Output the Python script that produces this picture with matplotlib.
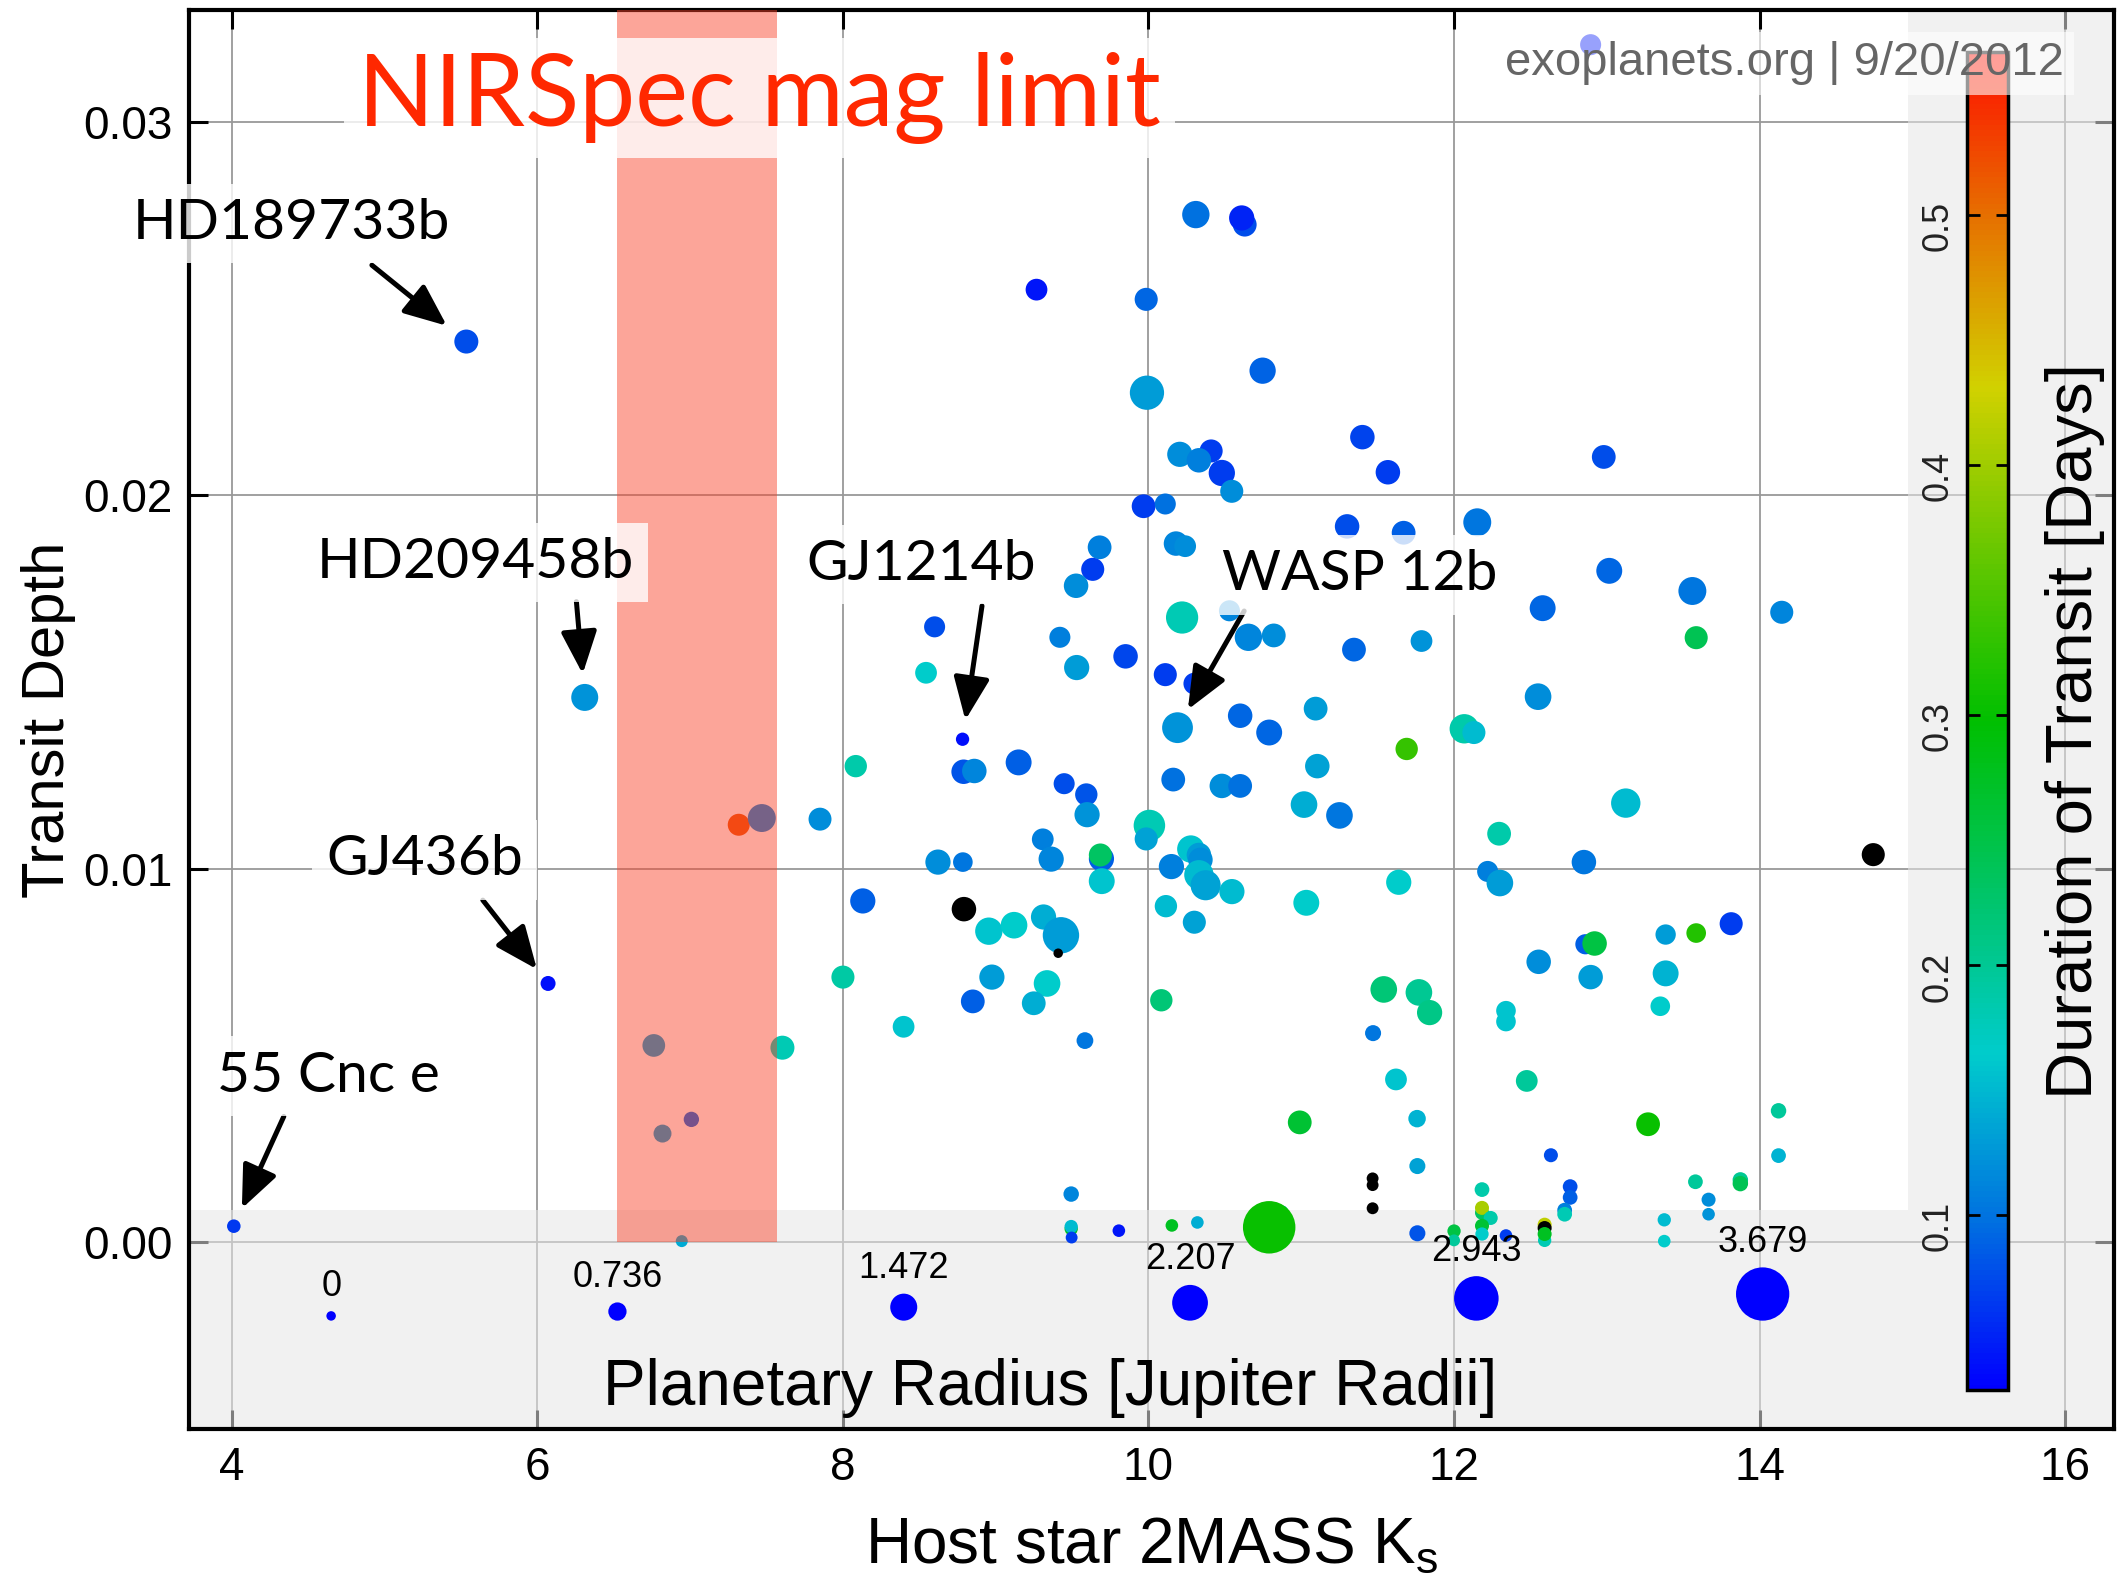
import numpy as np
import matplotlib
matplotlib.use('Agg')
import matplotlib.pyplot as plt
from matplotlib.colors import LinearSegmentedColormap, Normalize
from matplotlib.patches import Polygon, Rectangle
import matplotlib.cm as cm

plt.rcParams['font.family'] = ['Liberation Sans', 'DejaVu Sans']
plt.rcParams['mathtext.fontset'] = 'custom'
plt.rcParams['mathtext.rm'] = 'Liberation Sans'
plt.rcParams['mathtext.it'] = 'Liberation Sans'

# host star Ks magnitude, transit depth, planet radius [R_Jup], transit duration [days] (nan = unknown)
ks_mag = [5.535, 6.31, 6.07, 4.013, 8.783, 10.19,
          7.318, 7.469, 6.762, 7.604, 7.008, 6.819, 6.945, 7.85,
          10.31, 10.63, 10.61, 9.267, 9.985, 10.747, 9.99, 11.40, 10.205, 10.41,
          10.33, 10.48, 10.545, 9.968, 10.11, 11.30, 12.152, 11.67, 9.68, 9.635,
          9.526, 10.18, 10.24, 10.53, 10.22, 10.654, 10.82, 11.345, 8.60, 8.544,
          9.42, 9.53, 9.85, 10.11, 10.30, 11.094, 10.60,
          11.567, 12.98, 13.016, 13.56, 12.58, 14.145, 13.585, 11.787, 12.55, 12.067, 12.13,
          8.084, 8.79, 8.86, 9.15, 9.448, 9.593, 9.598, 10.162, 10.48, 10.60,
          10.79, 11.105, 11.018, 11.25, 10.006, 9.985, 9.308, 9.363, 9.692, 9.685,
          9.694, 8.622, 8.785, 8.13, 8.792, 8.955, 9.12, 9.313, 9.427, 9.409,
          10.277, 10.33, 10.34, 10.33, 10.374, 10.15, 10.546, 10.114, 10.30, 11.033,
          8.0, 8.975, 8.85, 9.336, 9.249, 10.084, 8.397, 9.584, 11.47, 10.99,
          9.494, 9.494, 9.494, 9.497, 9.806, 10.153, 10.32, 10.87, 10.79,
          11.69, 13.124, 12.295, 12.85, 14.744, 11.638, 12.22, 12.30, 13.814, 13.385,
          13.585, 12.86, 12.92, 12.554, 12.894, 13.385, 13.35, 11.54, 11.77, 11.84,
          12.34, 12.34, 11.62, 12.476, 11.758, 13.27, 14.124, 14.124, 11.76, 12.634,
          12.76, 12.76, 12.724, 12.724, 13.58, 13.874, 13.874, 13.666, 13.666, 13.376,
          13.376, 11.76, 12.0, 12.0, 12.183, 12.183, 12.183, 12.24, 12.183, 12.183,
          12.34, 12.593, 12.593, 12.593, 12.593, 11.467, 11.467, 11.467, 12.894]

depth = [0.02412, 0.01459, 0.00693, 0.00043, 0.01347, 0.01378,
         0.01118, 0.01136, 0.00527, 0.00521, 0.00329, 0.00291, 0.00003, 0.01133,
         0.02752, 0.02725, 0.02743, 0.02551, 0.02525, 0.02334, 0.02275, 0.02156, 0.02110, 0.02119,
         0.02094, 0.02060, 0.02011, 0.01971, 0.01977, 0.01917, 0.01928, 0.01900, 0.01861, 0.01802,
         0.01758, 0.01871, 0.01864, 0.01691, 0.01673, 0.01620, 0.01625, 0.01587, 0.01648, 0.01525,
         0.01620, 0.01539, 0.01569, 0.01520, 0.01496, 0.01429, 0.01410,
         0.02062, 0.02103, 0.01798, 0.01744, 0.01698, 0.01687, 0.01619, 0.01610, 0.01461, 0.01375, 0.01365,
         0.01275, 0.01260, 0.01262, 0.01285, 0.01228, 0.01199, 0.01145, 0.01239, 0.01222, 0.01222,
         0.01365, 0.01275, 0.01172, 0.01143, 0.01116, 0.01080, 0.01079, 0.01026, 0.01027, 0.01037,
         0.00967, 0.01018, 0.01018, 0.00914, 0.00892, 0.00833, 0.00849, 0.00871, 0.00822, 0.00774,
         0.01053, 0.01037, 0.01024, 0.00984, 0.00956, 0.01006, 0.00939, 0.00900, 0.00857, 0.00909,
         0.00710, 0.00710, 0.00645, 0.00693, 0.00640, 0.00648, 0.00577, 0.00540, 0.00560, 0.00321,
         0.00129, 0.00036, 0.00042, 0.000126, 0.00031, 0.00045, 0.00053, 0.00080, 0.00040,
         0.01321, 0.01176, 0.01094, 0.01018, 0.01038, 0.00964, 0.00993, 0.00962, 0.00853, 0.00824,
         0.00828, 0.00798, 0.00800, 0.00751, 0.00710, 0.00720, 0.00632, 0.00677, 0.00669, 0.00615,
         0.00620, 0.00591, 0.00436, 0.00432, 0.00331, 0.00316, 0.00352, 0.00232, 0.00204, 0.00233,
         0.00149, 0.00120, 0.00086, 0.00075, 0.00162, 0.00167, 0.00157, 0.00114, 0.00075, 0.00060,
         0.00003, 0.00024, 0.00030, 0.00005, 0.00141, 0.00079, 0.00092, 0.00065, 0.00044, 0.00022,
         0.00018, 0.00005, 0.00047, 0.00038, 0.00022, 0.00171, 0.00153, 0.00091, 0.03207]

radius = [1.22, 1.47, 0.46, 0.34, 0.32, 1.79,
          1.05, 1.55, 1.11, 1.22, 0.49, 0.71, 0.21, 1.13,
          1.50, 1.20, 1.32, 1.03, 1.14, 1.41, 2.08, 1.26, 1.32, 1.14,
          1.26, 1.41, 1.14, 1.20, 0.97, 1.26, 1.55, 1.20, 1.20, 1.14,
          1.26, 1.26, 1.03, 0.97, 1.91, 1.50, 1.20, 1.20, 0.97, 1.03,
          0.97, 1.32, 1.26, 1.14, 1.03, 1.20, 1.26,
          1.26, 1.20, 1.38, 1.55, 1.38, 1.14, 1.14, 1.03, 1.44, 1.67, 1.14,
          1.08, 1.26, 1.26, 1.38, 0.97, 1.08, 1.32, 1.20, 1.26, 1.20,
          1.38, 1.26, 1.44, 1.44, 1.85, 1.14, 1.03, 1.32, 1.32, 1.14,
          1.38, 1.32, 0.85, 1.32, 1.26, 1.50, 1.44, 1.32, 2.26, 0.0,
          1.50, 1.26, 1.26, 1.67, 1.73, 1.32, 1.32, 1.08, 1.14, 1.38,
          1.14, 1.32, 1.20, 1.44, 1.20, 1.08, 1.03, 0.61, 0.55, 1.20,
          0.50, 0.32, 0.32, 0.20, 0.26, 0.26, 0.26, 0.40, 3.61,
          1.08, 1.67, 1.20, 1.26, 1.14, 1.32, 0.97, 1.44, 1.14, 0.91,
          0.85, 0.90, 1.26, 1.26, 1.26, 1.38, 0.85, 1.44, 1.44, 1.32,
          0.85, 0.85, 1.03, 1.03, 0.67, 1.20, 0.50, 0.44, 0.55, 0.38,
          0.44, 0.44, 0.44, 0.44, 0.44, 0.50, 0.50, 0.38, 0.26, 0.32,
          0.26, 0.55, 0.32, 0.20, 0.44, 0.38, 0.38, 0.38, 0.38, 0.32,
          0.26, 0.32, 0.38, 0.38, 0.38, 0.20, 0.20, 0.20, 0.97]

nan = np.nan
duration = [0.076, 0.124, 0.040, 0.065, 0.040, 0.124,
            0.520, 0.108, 0.130, 0.180, 0.088, 0.130, 0.140, 0.119,
            0.097, 0.076, 0.052, 0.043, 0.092, 0.089, 0.129, 0.070, 0.119, 0.067,
            0.108, 0.067, 0.119, 0.067, 0.097, 0.076, 0.1015, 0.087, 0.108, 0.067,
            0.119, 0.113, 0.119, 0.113, 0.180, 0.113, 0.119, 0.092, 0.076, 0.164,
            0.108, 0.129, 0.072, 0.067, 0.067, 0.129, 0.092,
            0.067, 0.076, 0.092, 0.1015, 0.092, 0.113, 0.242, 0.124, 0.119, 0.185, 0.152,
            0.185, 0.081, 0.113, 0.087, 0.076, 0.081, 0.124, 0.097, 0.119, 0.097,
            0.092, 0.134, 0.141, 0.1015, 0.180, 0.134, 0.108, 0.113, 0.087, 0.231,
            0.159, 0.119, 0.1015, 0.087, nan, 0.159, 0.164, 0.141, 0.129, nan,
            0.159, 0.129, 0.119, 0.152, 0.134, 0.108, 0.152, 0.152, 0.134, 0.164,
            0.190, 0.129, 0.087, 0.164, 0.141, 0.219, 0.159, 0.1015, 0.1015, 0.264,
            0.113, 0.276, 0.152, 0.067, 0.043, 0.276, 0.141, 0.152, 0.302,
            0.331, 0.152, 0.185, 0.1015, nan, 0.164, 0.108, 0.129, 0.067, 0.129,
            0.320, 0.087, 0.253, 0.119, 0.129, 0.146, 0.164, 0.219, 0.201, 0.208,
            0.159, 0.159, 0.159, 0.196, 0.146, 0.302, 0.196, 0.146, 0.134, 0.076,
            0.076, 0.087, 0.108, 0.180, 0.196, 0.201, 0.242, 0.119, 0.124, 0.152,
            0.164, 0.081, 0.253, 0.196, 0.185, 0.231, 0.405, 0.185, 0.264, 0.164,
            0.067, 0.180, 0.420, nan, 0.276, nan, nan, nan, 0.043]

# labelled planets (index into the arrays above)
names = ['HD189733b', 'HD209458b', 'GJ436b', '55 Cnc e', 'GJ1214b', 'WASP 12b']
# (text offset, arrow tail offset, gap at tip) in points relative to the planet
label_offsets = [(-126, 85), (-79, 97), (-89, 89), (68, 108), (-30, 126), (131, 110)]
arrow_tails = [(-68, 55), (-6, 69), (-47, 60), (36, 79), (14, 96), (48, 84)]
arrow_gaps = [18, 17, 13, 14, 14, 15]

legend_radii = [0, 0.736, 1.472, 2.207, 2.943, 3.679]

band_lo, band_hi = 6.524, 7.571   # NIRSpec magnitude limit band

dur_min, dur_max = 0.03, 0.565
cmap = LinearSegmentedColormap.from_list('dur', [
    (0, 0, 1), (0, 0.44, 0.88), (0, 0.8, 0.8), (0, 0.77, 0.39), (0, 0.75, 0),
    (0.4, 0.78, 0), (0.82, 0.82, 0), (0.9, 0.45, 0), (1, 0.05, 0)])
cmap.set_bad('black')
norm = Normalize(dur_min, dur_max)


def marker_size(r):
    d_px = 9.5 + 11.9 * np.asarray(r, dtype=float)
    return (d_px * 0.72) ** 2


fig = plt.figure(figsize=(21.17, 15.80), dpi=100)
ax = fig.add_axes([0.0893, 0.0956, 0.9093, 0.8981])
xmin, xmax, ymin, ymax = 3.72, 16.32, -0.005, 0.033
ax.set_xlim(xmin, xmax)
ax.set_ylim(ymin, ymax)

ax.set_xticks([4, 6, 8, 10, 12, 14, 16])
ax.set_yticks([0, 0.01, 0.02, 0.03])
ax.set_yticklabels(['0.00', '0.01', '0.02', '0.03'])
ax.set_axisbelow(True)
ax.grid(True, color='#999999', lw=1.3)
ax.tick_params(direction='in', length=14, width=2.2, labelsize=33, pad=12,
               top=True, right=True)
for s in ax.spines.values():
    s.set_linewidth(3)

# grey panels (bottom strip + right column)
y_strip, x_col = 0.00086, 14.97
panel = Polygon([(xmin, ymin), (xmax, ymin), (xmax, ymax), (x_col, ymax),
                 (x_col, y_strip), (xmin, y_strip)], closed=True,
                fc='#e6e6e6', ec='none', alpha=0.55, zorder=1)
ax.add_patch(panel)

ax.scatter(ks_mag, depth, s=marker_size(radius), c=duration, cmap=cmap, norm=norm,
           linewidths=0, zorder=2, plotnonfinite=True)

ax.add_patch(Rectangle((band_lo, 0), band_hi - band_lo, ymax, fc=(0.98, 0.26, 0.16),
                       ec='none', alpha=0.475, zorder=3))

ax.text(0.2964, 0.938, 'NIRSpec mag limit', transform=ax.transAxes, ha='center',
        va='center', fontsize=72, color='#ff2800', family='Lato', zorder=6,
        bbox=dict(boxstyle='square,pad=0.14', fc='white', ec='none', alpha=0.8))

# planet labels + arrows
for i, name in enumerate(names):
    px, py = ks_mag[i], depth[i]
    ax.annotate('', xy=(px, py), xytext=arrow_tails[i], textcoords='offset points',
                arrowprops=dict(arrowstyle='-|>,head_length=1.3,head_width=0.55',
                                lw=3.6, color='black', shrinkA=0, shrinkB=arrow_gaps[i],
                                mutation_scale=20), zorder=5)
    ax.annotate(name, xy=(px, py), xytext=label_offsets[i], textcoords='offset points',
                ha='center', va='center', fontsize=41, family='Lato', zorder=6,
                bbox=dict(boxstyle='square,pad=0.25', fc='white', ec='none', alpha=0.8))

# radius size legend
fig.canvas.draw()
leg_x = np.linspace(4.65, 14.02, len(legend_radii))
leg_bottom = -0.0021
leg_d = 9.5 + 11.9 * np.array(legend_radii)
to_px = ax.transData
leg_y = []
for x, d in zip(leg_x, leg_d):
    bx, by = to_px.transform((x, leg_bottom))
    leg_y.append(to_px.inverted().transform((bx, by + d / 2))[1])
ax.scatter(leg_x, leg_y, s=marker_size(legend_radii), color=cmap(0.0), linewidths=0, zorder=2)
for x, y, r, d in zip(leg_x, leg_y, legend_radii, leg_d):
    ax.annotate('%g' % r, xy=(x, y), xytext=(0, d * 0.36 + 18), textcoords='offset points',
                ha='center', va='center', fontsize=26, zorder=4)
ax.text(0.4475, 0.029, 'Planetary Radius [Jupiter Radii]', transform=ax.transAxes,
        ha='center', va='center', fontsize=46, zorder=4)

ax.set_xlabel(r'Host star 2MASS K$_\mathrm{s}$', fontsize=46, va='baseline')
ax.xaxis.set_label_coords(0.5, -0.094)
ax.set_ylabel('Transit Depth', fontsize=43, va='baseline')
ax.yaxis.set_label_coords(-0.0649, 0.5)

# colorbar inside the right panel
cax = fig.add_axes([0.9291, 0.1203, 0.0194, 0.8468])
cb = fig.colorbar(cm.ScalarMappable(norm=norm, cmap=cmap), cax=cax,
                  ticks=[0.1, 0.2, 0.3, 0.4, 0.5])
cb.outline.set_linewidth(2.5)
cax.tick_params(axis='y', direction='in', length=9, width=2, left=True, right=True,
                labelleft=True, labelright=False, labelsize=26, pad=8,
                labelrotation=90, labelcolor='#222222')
fig.text(0.980, 0.537, 'Duration of Transit [Days]', rotation=90, fontsize=47,
         ha='center', va='center')

fig.text(0.843, 0.960, 'exoplanets.org | 9/20/2012', fontsize=34, color='#666666',
         ha='center', va='center', zorder=10,
         bbox=dict(boxstyle='square,pad=0.2', fc='white', ec='none', alpha=0.6))

fig.savefig('out.png', dpi=100)
